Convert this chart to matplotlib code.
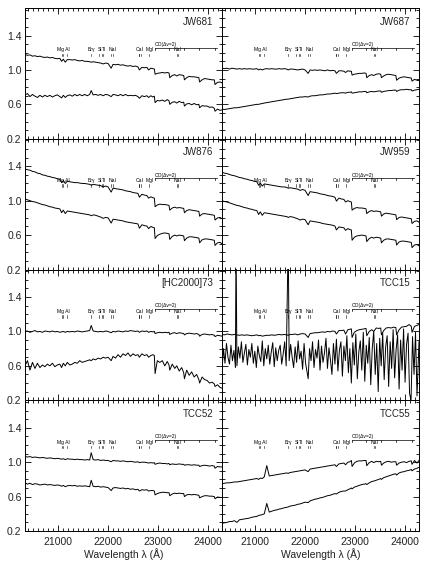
import matplotlib
matplotlib.use("Agg")
import matplotlib.pyplot as plt
from matplotlib.ticker import MultipleLocator, FixedLocator

plt.rcParams['font.family'] = ['Liberation Sans', 'DejaVu Sans']

WAVE = [20330, 20380, 20430, 20480, 20530, 20580, 20630, 20680, 20730, 20780,
        20830, 20880, 20930, 20980, 21030, 21066, 21100, 21140, 21180, 21230,
        21280, 21330, 21380, 21430, 21480, 21530, 21580, 21630, 21661, 21700,
        21750, 21800, 21850, 21900, 21950, 22000, 22062, 22100, 22150, 22200,
        22250, 22300, 22350, 22400, 22450, 22500, 22550, 22600, 22630, 22680,
        22730, 22780, 22814, 22860, 22900, 22930, 22945, 22990, 23040, 23090,
        23140, 23190, 23225, 23240, 23290, 23340, 23380, 23430, 23480, 23520,
        23535, 23580, 23630, 23680, 23730, 23780, 23825, 23840, 23890, 23940,
        23990, 24040, 24090, 24135, 24150, 24200, 24250, 24290]

# dense wavelength grid for the noisy TCC15 lower spectrum
WAVE_TCC15_LO = [20330, 20360, 20390, 20420, 20450, 20480, 20510, 20540, 20570, 20600,
                 20612, 20630, 20660, 20690, 20720, 20750, 20780, 20810, 20840, 20870,
                 20900, 20930, 20960, 20990, 21020, 21050, 21080, 21110, 21140, 21170,
                 21200, 21230, 21260, 21290, 21320, 21350, 21380, 21410, 21440, 21470,
                 21500, 21530, 21560, 21590, 21620, 21661, 21680, 21710, 21740, 21770,
                 21800, 21830, 21860, 21890, 21920, 21950, 21980, 22010, 22062, 22090,
                 22120, 22150, 22180, 22210, 22240, 22270, 22300, 22330, 22360, 22390,
                 22420, 22450, 22480, 22510, 22540, 22570, 22600, 22630, 22660, 22690,
                 22720, 22750, 22780, 22810, 22840, 22870, 22900, 22930, 22960, 22990,
                 23020, 23050, 23080, 23110, 23140, 23170, 23200, 23230, 23260, 23290,
                 23320, 23350, 23380, 23410, 23440, 23470, 23500, 23530, 23560, 23590,
                 23620, 23650, 23680, 23710, 23740, 23770, 23800, 23830, 23860, 23890,
                 23920, 23950, 23980, 24010, 24040, 24070, 24100, 24130, 24160, 24190,
                 24220, 24250, 24290]

JW681_UP = [1.18, 1.17, 1.175, 1.16, 1.165, 1.155, 1.16, 1.15, 1.145, 1.15,
            1.14, 1.145, 1.135, 1.13, 1.135, 1.10, 1.125, 1.09, 1.12, 1.12,
            1.115, 1.12, 1.11, 1.105, 1.11, 1.10, 1.10, 1.095, 1.09, 1.095,
            1.09, 1.085, 1.08, 1.07, 1.08, 1.075, 1.02, 1.065, 1.06, 1.065,
            1.055, 1.06, 1.05, 1.045, 1.05, 1.04, 1.045, 1.035, 1.00, 1.03,
            1.025, 1.03, 1.00, 1.02, 1.015, 1.01, 0.95, 0.96, 0.965, 0.97,
            0.965, 0.97, 0.965, 0.91, 0.935, 0.945, 0.93, 0.945, 0.94, 0.935,
            0.885, 0.91, 0.925, 0.92, 0.92, 0.915, 0.91, 0.86, 0.885, 0.9,
            0.895, 0.89, 0.885, 0.885, 0.83, 0.855, 0.86, 0.85]
JW681_LO = [0.71, 0.725, 0.69, 0.715, 0.695, 0.68, 0.705, 0.685, 0.705, 0.69,
            0.705, 0.685, 0.70, 0.71, 0.69, 0.675, 0.705, 0.68, 0.70, 0.71,
            0.695, 0.715, 0.70, 0.715, 0.70, 0.715, 0.70, 0.715, 0.76, 0.71,
            0.715, 0.705, 0.715, 0.70, 0.715, 0.71, 0.69, 0.715, 0.71, 0.70,
            0.715, 0.70, 0.715, 0.70, 0.705, 0.70, 0.705, 0.69, 0.67, 0.70,
            0.69, 0.70, 0.68, 0.70, 0.685, 0.695, 0.62, 0.645, 0.64, 0.65,
            0.635, 0.655, 0.64, 0.60, 0.625, 0.63, 0.615, 0.635, 0.62, 0.625,
            0.58, 0.605, 0.61, 0.595, 0.61, 0.595, 0.60, 0.56, 0.585, 0.58,
            0.58, 0.565, 0.57, 0.555, 0.52, 0.545, 0.53, 0.535]

JW687_UP = [1.02, 1.015, 1.02, 1.01, 1.02, 1.015, 1.01, 1.015, 1.01, 1.015,
            1.01, 1.015, 1.01, 1.01, 1.015, 1.00, 1.01, 1.00, 1.01, 1.015,
            1.01, 1.015, 1.01, 1.01, 1.015, 1.01, 1.015, 1.01, 1.00, 1.01,
            1.01, 1.005, 1.00, 1.005, 1.01, 1.00, 0.96, 1.00, 0.995, 1.00,
            0.995, 1.00, 0.995, 0.99, 1.00, 0.99, 0.995, 0.99, 0.96, 0.99,
            0.99, 0.985, 0.97, 0.99, 0.985, 0.985, 0.94, 0.95, 0.955, 0.96,
            0.96, 0.965, 0.96, 0.91, 0.935, 0.945, 0.935, 0.95, 0.955, 0.95,
            0.91, 0.93, 0.945, 0.95, 0.945, 0.94, 0.935, 0.88, 0.905, 0.915,
            0.92, 0.915, 0.91, 0.905, 0.87, 0.89, 0.88, 0.875]
JW687_LO = [0.545, 0.54, 0.545, 0.55, 0.555, 0.56, 0.56, 0.565, 0.57, 0.575,
            0.58, 0.585, 0.59, 0.595, 0.60, 0.60, 0.605, 0.61, 0.615, 0.62,
            0.625, 0.63, 0.635, 0.64, 0.645, 0.65, 0.655, 0.66, 0.66, 0.665,
            0.67, 0.675, 0.68, 0.685, 0.685, 0.69, 0.685, 0.695, 0.70, 0.70,
            0.705, 0.71, 0.71, 0.715, 0.72, 0.72, 0.725, 0.73, 0.725, 0.73,
            0.735, 0.735, 0.73, 0.74, 0.74, 0.745, 0.73, 0.735, 0.74, 0.745,
            0.745, 0.75, 0.75, 0.735, 0.745, 0.75, 0.745, 0.75, 0.755, 0.755,
            0.74, 0.75, 0.755, 0.76, 0.76, 0.765, 0.765, 0.75, 0.765, 0.77,
            0.77, 0.775, 0.77, 0.77, 0.755, 0.765, 0.77, 0.775]

JW876_UP = [1.37, 1.36, 1.355, 1.34, 1.335, 1.32, 1.315, 1.30, 1.295, 1.285,
            1.28, 1.27, 1.265, 1.255, 1.25, 1.21, 1.235, 1.20, 1.225, 1.22,
            1.215, 1.21, 1.21, 1.205, 1.20, 1.20, 1.195, 1.19, 1.18, 1.19,
            1.185, 1.18, 1.175, 1.16, 1.17, 1.16, 1.10, 1.145, 1.14, 1.135,
            1.13, 1.125, 1.115, 1.11, 1.105, 1.095, 1.09, 1.085, 1.04, 1.075,
            1.065, 1.06, 1.03, 1.045, 1.035, 1.03, 0.93, 0.95, 0.96, 0.955,
            0.955, 0.95, 0.945, 0.89, 0.915, 0.925, 0.915, 0.92, 0.915, 0.91,
            0.86, 0.885, 0.895, 0.89, 0.885, 0.88, 0.875, 0.82, 0.845, 0.85,
            0.845, 0.84, 0.835, 0.83, 0.775, 0.80, 0.805, 0.79]
JW876_LO = [1.02, 1.01, 1.00, 0.99, 0.985, 0.975, 0.965, 0.955, 0.95, 0.94,
            0.93, 0.925, 0.915, 0.91, 0.905, 0.86, 0.89, 0.85, 0.88, 0.875,
            0.87, 0.865, 0.86, 0.855, 0.85, 0.845, 0.84, 0.835, 0.825, 0.835,
            0.83, 0.82, 0.81, 0.795, 0.805, 0.80, 0.74, 0.785, 0.78, 0.775,
            0.77, 0.765, 0.755, 0.75, 0.745, 0.74, 0.735, 0.73, 0.68, 0.72,
            0.71, 0.705, 0.675, 0.70, 0.69, 0.685, 0.56, 0.595, 0.61, 0.62,
            0.625, 0.62, 0.615, 0.55, 0.585, 0.60, 0.59, 0.60, 0.595, 0.59,
            0.535, 0.565, 0.58, 0.58, 0.575, 0.57, 0.565, 0.51, 0.545, 0.555,
            0.555, 0.55, 0.545, 0.54, 0.48, 0.51, 0.515, 0.50]

JW959_UP = [1.33, 1.32, 1.315, 1.305, 1.295, 1.29, 1.28, 1.27, 1.265, 1.255,
            1.25, 1.24, 1.235, 1.225, 1.22, 1.18, 1.205, 1.17, 1.195, 1.19,
            1.185, 1.18, 1.175, 1.17, 1.165, 1.16, 1.16, 1.155, 1.145, 1.15,
            1.145, 1.14, 1.135, 1.12, 1.13, 1.12, 1.06, 1.105, 1.10, 1.095,
            1.09, 1.08, 1.075, 1.07, 1.06, 1.055, 1.05, 1.04, 0.995, 1.03,
            1.02, 1.015, 0.985, 1.00, 0.99, 0.985, 0.89, 0.91, 0.92, 0.915,
            0.915, 0.91, 0.905, 0.85, 0.875, 0.885, 0.875, 0.88, 0.875, 0.87,
            0.82, 0.845, 0.855, 0.85, 0.845, 0.84, 0.835, 0.78, 0.805, 0.81,
            0.805, 0.80, 0.795, 0.79, 0.735, 0.76, 0.765, 0.75]
JW959_LO = [1.00, 0.99, 0.985, 0.975, 0.965, 0.955, 0.945, 0.94, 0.93, 0.92,
            0.915, 0.905, 0.90, 0.89, 0.885, 0.84, 0.87, 0.83, 0.86, 0.855,
            0.85, 0.845, 0.84, 0.835, 0.83, 0.825, 0.82, 0.815, 0.805, 0.815,
            0.81, 0.80, 0.79, 0.775, 0.785, 0.78, 0.72, 0.765, 0.76, 0.755,
            0.75, 0.745, 0.735, 0.73, 0.725, 0.72, 0.715, 0.705, 0.66, 0.695,
            0.69, 0.685, 0.655, 0.675, 0.665, 0.66, 0.54, 0.575, 0.59, 0.595,
            0.60, 0.595, 0.59, 0.525, 0.56, 0.575, 0.565, 0.575, 0.57, 0.565,
            0.51, 0.54, 0.555, 0.555, 0.55, 0.545, 0.54, 0.485, 0.52, 0.53,
            0.53, 0.525, 0.52, 0.515, 0.455, 0.485, 0.49, 0.475]

HC73_UP = [1.00, 1.005, 0.99, 1.00, 1.01, 0.995, 1.00, 0.99, 1.005, 1.00,
           0.995, 1.005, 0.995, 1.00, 0.99, 0.995, 1.00, 0.99, 1.00, 0.995,
           1.00, 0.995, 1.005, 1.00, 0.995, 1.00, 1.005, 1.01, 1.07, 1.005,
           1.00, 0.995, 1.00, 0.995, 1.005, 1.00, 0.985, 1.00, 0.995, 1.005,
           1.00, 0.995, 1.005, 1.00, 1.01, 1.005, 1.00, 1.005, 0.99, 1.005,
           1.00, 1.005, 0.99, 1.00, 0.995, 1.00, 0.975, 0.985, 0.99, 0.985,
           0.99, 0.985, 0.99, 0.965, 0.98, 0.985, 0.975, 0.985, 0.98, 0.975,
           0.96, 0.975, 0.98, 0.975, 0.97, 0.975, 0.965, 0.945, 0.965, 0.97,
           0.965, 0.96, 0.965, 0.955, 0.94, 0.955, 0.95, 0.945]
HC73_LO = [0.60, 0.66, 0.55, 0.64, 0.57, 0.63, 0.58, 0.61, 0.59, 0.62,
           0.60, 0.63, 0.59, 0.61, 0.62, 0.58, 0.63, 0.60, 0.64, 0.61,
           0.62, 0.64, 0.63, 0.66, 0.64, 0.65, 0.66, 0.67, 0.66, 0.68,
           0.67, 0.69, 0.68, 0.70, 0.69, 0.70, 0.66, 0.71, 0.69, 0.73,
           0.70, 0.74, 0.72, 0.75, 0.71, 0.74, 0.72, 0.73, 0.70, 0.74,
           0.72, 0.73, 0.70, 0.72, 0.73, 0.72, 0.51, 0.66, 0.64, 0.66,
           0.60, 0.65, 0.61, 0.55, 0.62, 0.57, 0.60, 0.54, 0.58, 0.52,
           0.45, 0.55, 0.49, 0.53, 0.47, 0.50, 0.44, 0.40, 0.47, 0.44,
           0.43, 0.40, 0.41, 0.39, 0.36, 0.38, 0.35, 0.34]

TCC15_UP = [0.965, 0.96, 0.97, 0.965, 0.96, 0.965, 0.96, 0.955, 0.96, 0.955,
            0.96, 0.955, 0.95, 0.955, 0.96, 0.95, 0.955, 0.945, 0.95, 0.955,
            0.955, 0.96, 0.955, 0.96, 0.965, 0.96, 0.965, 0.96, 0.955, 0.965,
            0.965, 0.97, 0.96, 0.97, 0.975, 0.97, 0.93, 0.975, 0.98, 0.985,
            0.985, 0.99, 0.995, 0.99, 1.00, 0.995, 1.005, 1.00, 0.97, 1.01,
            1.01, 1.015, 0.97, 1.02, 1.025, 1.03, 0.93, 0.99, 1.01, 1.02,
            1.025, 1.03, 1.035, 0.95, 1.00, 1.02, 1.00, 1.04, 1.035, 1.04,
            0.96, 1.01, 1.04, 1.045, 1.04, 1.05, 1.045, 0.96, 1.02, 1.05,
            1.055, 1.06, 1.08, 1.06, 0.99, 1.06, 1.07, 1.08]
TCC15_LO = [0.55, 0.80, 0.63, 0.86, 0.70, 0.62, 0.84, 0.66, 0.78, 0.58,
            2.10, 0.60, 0.82, 0.69, 0.88, 0.64, 0.75, 0.85, 0.61, 0.79,
            0.70, 0.86, 0.63, 0.77, 0.58, 0.83, 0.72, 0.65, 0.89, 0.60,
            0.80, 0.68, 0.84, 0.62, 0.76, 0.87, 0.59, 0.81, 0.66, 0.78,
            0.84, 0.62, 0.74, 0.88, 0.60, 2.10, 0.66, 0.85, 0.70, 0.58,
            0.82, 0.64, 0.89, 0.68, 0.77, 0.56, 0.86, 0.63, 0.45, 0.80,
            0.66, 0.88, 0.58, 0.79, 0.69, 0.90, 0.55, 0.83, 0.64, 0.75,
            0.92, 0.57, 0.81, 0.67, 0.50, 0.86, 0.62, 0.91, 0.54, 0.78,
            0.88, 0.48, 0.83, 0.66, 0.95, 0.52, 0.80, 0.40, 0.87, 0.61,
            0.97, 0.45, 0.76, 0.89, 0.55, 0.99, 0.42, 0.84, 0.63, 0.93,
            0.38, 0.80, 1.00, 0.50, 0.86, 0.30, 0.92, 0.60, 0.98, 0.44,
            0.82, 0.95, 0.36, 0.88, 0.57, 1.02, 0.46, 0.79, 0.96, 0.33,
            0.90, 0.55, 1.03, 0.41, 0.85, 0.98, 0.28, 0.20, 0.94, 0.50,
            0.99, 0.25, 0.88]

TCC52_UP = [1.065, 1.06, 1.065, 1.055, 1.06, 1.055, 1.05, 1.055, 1.05, 1.045,
            1.05, 1.045, 1.04, 1.045, 1.04, 1.035, 1.04, 1.03, 1.04, 1.035,
            1.035, 1.03, 1.035, 1.03, 1.03, 1.025, 1.03, 1.025, 1.11, 1.03,
            1.025, 1.03, 1.02, 1.025, 1.02, 1.02, 1.005, 1.02, 1.015, 1.015,
            1.01, 1.015, 1.01, 1.005, 1.01, 1.005, 1.00, 1.005, 0.995, 1.00,
            1.00, 0.995, 0.99, 0.995, 0.99, 0.995, 0.975, 0.985, 0.99, 0.985,
            0.985, 0.98, 0.985, 0.97, 0.98, 0.975, 0.975, 0.98, 0.975, 0.975,
            0.965, 0.97, 0.97, 0.965, 0.97, 0.965, 0.965, 0.95, 0.96, 0.965,
            0.96, 0.955, 0.96, 0.955, 0.93, 0.95, 0.945, 0.945]
TCC52_LO = [0.76, 0.745, 0.755, 0.74, 0.75, 0.745, 0.735, 0.74, 0.745, 0.735,
            0.74, 0.735, 0.73, 0.735, 0.73, 0.72, 0.73, 0.715, 0.725, 0.73,
            0.725, 0.73, 0.72, 0.725, 0.72, 0.725, 0.72, 0.715, 0.79, 0.72,
            0.715, 0.72, 0.71, 0.715, 0.71, 0.705, 0.67, 0.70, 0.705, 0.70,
            0.695, 0.70, 0.69, 0.695, 0.685, 0.69, 0.68, 0.685, 0.665, 0.68,
            0.675, 0.68, 0.665, 0.67, 0.67, 0.665, 0.62, 0.635, 0.645, 0.65,
            0.65, 0.645, 0.645, 0.61, 0.63, 0.64, 0.635, 0.64, 0.635, 0.635,
            0.60, 0.62, 0.625, 0.62, 0.625, 0.62, 0.615, 0.585, 0.60, 0.61,
            0.61, 0.605, 0.605, 0.60, 0.575, 0.595, 0.59, 0.59]

TCC55_UP = [0.75, 0.755, 0.76, 0.76, 0.765, 0.77, 0.77, 0.775, 0.78, 0.785,
            0.79, 0.795, 0.80, 0.805, 0.81, 0.80, 0.815, 0.81, 0.83, 0.96,
            0.84, 0.845, 0.85, 0.855, 0.86, 0.865, 0.87, 0.875, 0.87, 0.88,
            0.885, 0.89, 0.895, 0.90, 0.905, 0.91, 0.89, 0.92, 0.925, 0.93,
            0.935, 0.94, 0.945, 0.95, 0.955, 0.96, 0.965, 0.97, 0.95, 0.98,
            0.985, 0.99, 0.97, 1.00, 1.005, 1.02, 0.95, 0.99, 1.01, 1.015,
            1.015, 1.02, 1.02, 0.96, 0.995, 1.01, 0.995, 1.01, 1.005, 1.01,
            0.965, 0.99, 1.005, 1.01, 1.00, 1.005, 1.005, 0.965, 0.99, 1.00,
            1.005, 0.995, 1.01, 1.015, 0.975, 1.02, 0.99, 1.02]
TCC55_LO = [0.29, 0.295, 0.30, 0.31, 0.31, 0.32, 0.30, 0.33, 0.335, 0.34,
            0.345, 0.35, 0.36, 0.365, 0.37, 0.38, 0.385, 0.39, 0.40, 0.52,
            0.42, 0.43, 0.44, 0.445, 0.455, 0.46, 0.47, 0.475, 0.48, 0.49,
            0.495, 0.50, 0.51, 0.515, 0.525, 0.535, 0.53, 0.55, 0.56, 0.57,
            0.575, 0.585, 0.59, 0.60, 0.61, 0.615, 0.625, 0.635, 0.63, 0.65,
            0.66, 0.665, 0.665, 0.68, 0.69, 0.70, 0.69, 0.71, 0.72, 0.73,
            0.74, 0.745, 0.75, 0.74, 0.76, 0.775, 0.78, 0.79, 0.80, 0.81,
            0.80, 0.82, 0.83, 0.84, 0.85, 0.86, 0.865, 0.85, 0.875, 0.885,
            0.89, 0.90, 0.905, 0.915, 0.90, 0.92, 0.93, 0.94]

NAMES = ["JW681", "JW687", "JW876", "JW959", "[HC2000]73", "TCC15", "TCC52", "TCC55"]
UPPER = [JW681_UP, JW687_UP, JW876_UP, JW959_UP, HC73_UP, TCC15_UP, TCC52_UP, TCC55_UP]
LOWER = [JW681_LO, JW687_LO, JW876_LO, JW959_LO, HC73_LO, TCC15_LO, TCC52_LO, TCC55_LO]
LOWER_WAVE = [WAVE, WAVE, WAVE, WAVE, WAVE, WAVE_TCC15_LO, WAVE, WAVE]

# line identifications
ID_TEXT = ["Mg Al", "Br\u03b3", "Si", "Ti", "NaI", "CaI", "MgI", "NaI"]
ID_TEXT_X = [21110, 21661, 21835, 21925, 22090, 22630, 22830, 23390]
ID_TICKS = [21066, 21099, 21170, 21661, 21825, 21885, 21903, 22062, 22090,
            22614, 22631, 22657, 22814, 23379, 23400]
CO_HEADS = [22935, 23227, 23525, 23829, 24142]
CO_END = 24190

XLIM = (20330, 24290)
YLIM = (0.2, 1.72)
YTICKS = [0.2, 0.6, 1.0, 1.4]
XTICKS = [21000, 22000, 23000, 24000]

W, H = 426, 567
fig = plt.figure(figsize=(W / 100, H / 100), dpi=100)

col_left = [25, 222]
pw = 197
top0 = 8
ph = 130.75

tcol = '#222222'
for i in range(8):
    r, c = divmod(i, 2)
    left = col_left[c] / W
    bottom = 1 - (top0 + ph * (r + 1)) / H
    ax = fig.add_axes([left, bottom, pw / W, ph / H])
    ax.plot(WAVE, UPPER[i], color='black', lw=0.7)
    ax.plot(LOWER_WAVE[i], LOWER[i], color='black', lw=0.7)
    ax.set_xlim(*XLIM)
    ax.set_ylim(*YLIM)
    ax.xaxis.set_major_locator(FixedLocator(XTICKS))
    ax.xaxis.set_minor_locator(MultipleLocator(100))
    ax.yaxis.set_major_locator(FixedLocator(YTICKS))
    ax.yaxis.set_minor_locator(MultipleLocator(0.1))
    ax.tick_params(which='both', direction='in', top=True, right=True,
                   width=0.6, colors='black', labelcolor=tcol)
    ax.tick_params(which='major', length=4)
    ax.tick_params(which='minor', length=2)
    ax.tick_params(axis='x', pad=4, labelsize=7.5)
    ax.tick_params(axis='y', pad=2.5, labelsize=7.5)
    for s in ax.spines.values():
        s.set_linewidth(0.7)
    if r < 3:
        ax.set_xticklabels([])
    else:
        ax.set_xlabel("Wavelength \u03bb (\u00c5)", fontsize=7.5, color=tcol, labelpad=1)
    if c == 1:
        ax.set_yticklabels([])
    ax.text(0.955, 0.895, NAMES[i], transform=ax.transAxes, ha='right', va='center',
            fontsize=7, color=tcol)
    # line IDs
    for t, x in zip(ID_TEXT, ID_TEXT_X):
        ax.text(x, 1.205, t, fontsize=3.6, ha='center', va='bottom', color='black')
    for x in ID_TICKS:
        ax.plot([x, x], [1.16, 1.19], color='black', lw=0.4)
    ax.plot([CO_HEADS[0], CO_END], [1.26, 1.26], color='black', lw=0.5)
    for x in CO_HEADS:
        ax.plot([x, x], [1.235, 1.26], color='black', lw=0.5)
    ax.text(CO_HEADS[0], 1.268, "CO(\u0394v=2)", fontsize=3.6, ha='left', va='bottom', color='black')

fig.savefig("out.png", dpi=100)
